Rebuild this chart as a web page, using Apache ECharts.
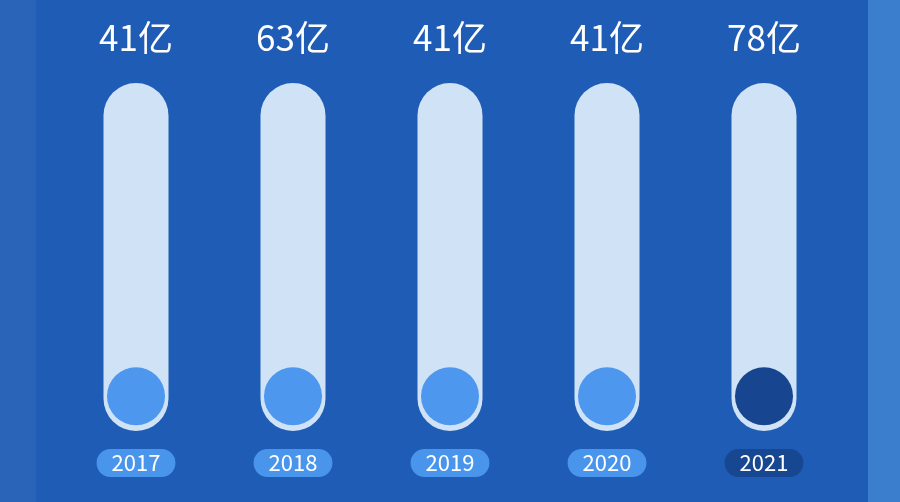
<!DOCTYPE html>
<html><head><meta charset="utf-8">
<script src="https://cdn.jsdelivr.net/npm/echarts@6/dist/echarts.min.js"></script>
<style>html,body{margin:0;padding:0;background:#1f5cb5}#c{width:900px;height:502px}</style>
</head><body><div id="c"></div>
<script>
var years = ['2017', '2018', '2019', '2020', '2021'];
var amounts = [41, 63, 41, 41, 78];
var unit = '亿';
var highlightYear = '2021';

var chart = echarts.init(document.getElementById('c'));
var tubeData = years.map(function () { return 100; });
var bulbData = years.map(function (y) { return 10; });

chart.setOption({
  backgroundColor: '#1f5cb5',
  graphic: [
    { type: 'rect', left: 0, top: 0, shape: { width: 36, height: 502 }, style: { fill: '#2a64b8' }, z: -10 },
    { type: 'rect', left: 868, top: 0, shape: { width: 32, height: 502 }, style: { fill: '#3a7ecd' }, z: -10 }
  ],
  grid: { left: 57.5, right: 57.5, top: 83, bottom: 71 },
  xAxis: {
    type: 'category',
    data: years,
    axisLine: { show: false },
    axisTick: { show: false },
    axisLabel: {
      margin: 18,
      fontFamily: 'Noto Sans CJK SC',
      fontSize: 22,
      lineHeight: 28,
      color: '#ffffff',
      verticalAlign: 'top',
      formatter: function (v) { return v === highlightYear ? '{d|' + v + '}' : '{n|' + v + '}'; },
      rich: {
        n: { backgroundColor: '#4a95ec', borderRadius: 14, padding: [0, 15], height: 28, lineHeight: 28, fontSize: 22, color: '#fff', fontFamily: 'Noto Sans CJK SC' },
        d: { backgroundColor: '#184792', borderRadius: 14, padding: [0, 15], height: 28, lineHeight: 28, fontSize: 22, color: '#fff', fontFamily: 'Noto Sans CJK SC' }
      }
    }
  },
  yAxis: { type: 'value', min: 0, max: 100, show: false, splitLine: { show: false } },
  series: [
    {
      type: 'bar',
      data: tubeData,
      barWidth: 65,
      itemStyle: { color: '#d0e3f6', borderRadius: 32.5 },
      silent: true,
      label: {
        show: true,
        position: 'top',
        distance: 28,
        fontFamily: 'Noto Sans CJK SC',
        fontSize: 35,
        color: '#ffffff',
        formatter: function (p) { return amounts[p.dataIndex] + unit; }
      },
      z: 2
    },
    {
      type: 'scatter',
      data: bulbData.map(function (v, i) {
        return {
          value: [years[i], v],
          itemStyle: { color: years[i] === highlightYear ? '#174590' : '#4d97ee', opacity: 1 }
        };
      }),
      symbolSize: 58,
      silent: true,
      z: 3
    }
  ]
});
</script></body></html>
